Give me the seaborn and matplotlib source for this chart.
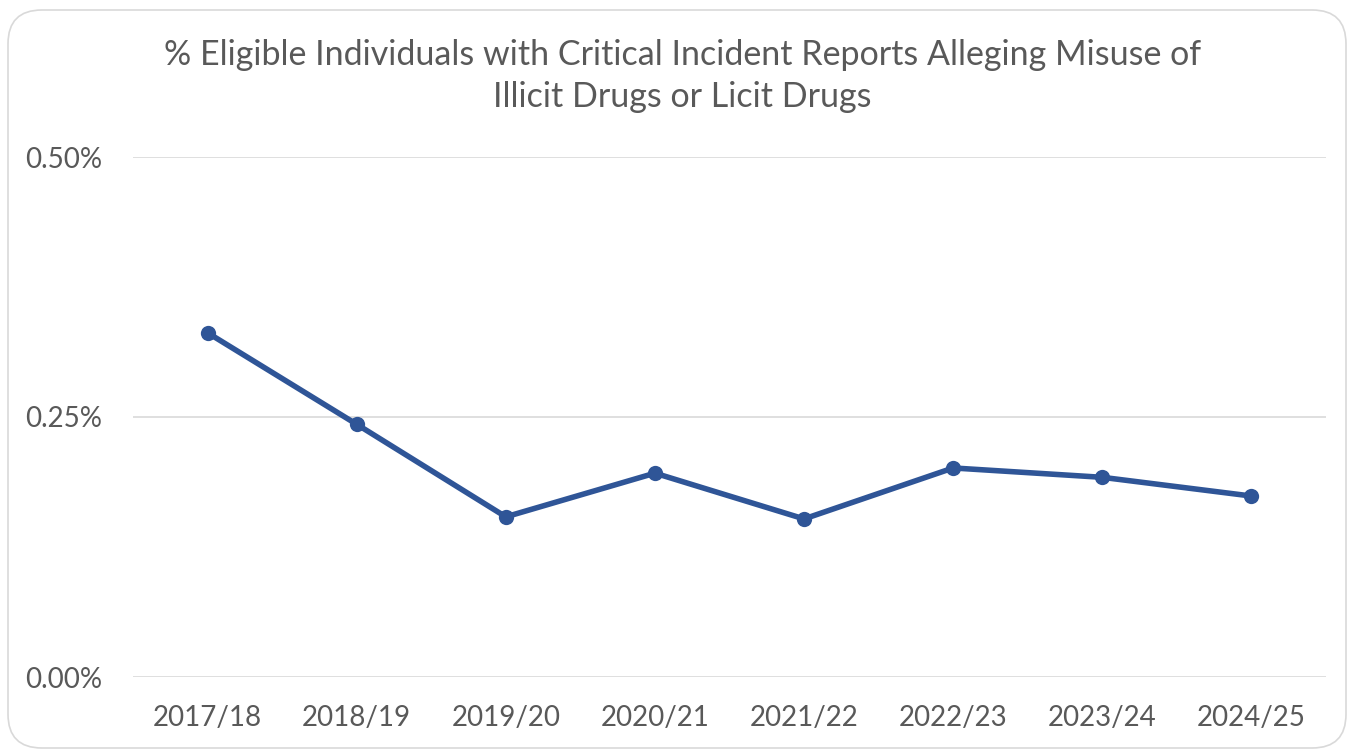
import matplotlib
matplotlib.use("Agg")
import matplotlib.pyplot as plt
import seaborn as sns
import pandas as pd
from matplotlib.patches import FancyBboxPatch
from matplotlib.ticker import FuncFormatter

years = ["2017/18", "2018/19", "2019/20", "2020/21", "2021/22", "2022/23", "2023/24", "2024/25"]
pct = [0.331, 0.243, 0.154, 0.196, 0.152, 0.201, 0.192, 0.174]

df = pd.DataFrame({"year": years, "pct": pct})

sns.set_style("white")
plt.rcParams["font.family"] = ["Lato", "DejaVu Sans"]

fig = plt.figure(figsize=(13.54, 7.5), dpi=100)
ax = fig.add_axes([133/1354, 1-677/750, (1326-133)/1354, (677-157)/750])

# rounded chart border
box = FancyBboxPatch((8/1354, 2/750), 1338/1354, 738/750, transform=fig.transFigure,
                     boxstyle="round,pad=0,rounding_size=0.025", fc="none", ec="#d9d9d9", lw=1.2,
                     mutation_aspect=1354/750)
fig.patches.append(box)

sns.lineplot(data=df, x="year", y="pct", ax=ax, color="#2f5597", lw=4,
             marker="o", markersize=11, markeredgewidth=0, sort=False)

ax.set_xlim(-0.5, 7.5)
ax.set_ylim(0, 0.5)
ax.set_yticks([0, 0.25, 0.5])
ax.yaxis.set_major_formatter(FuncFormatter(lambda v, p: f"{v:.2f}%"))
ax.grid(axis="y", color="#d9d9d9", lw=1.2)
ax.set_axisbelow(True)
for s in ax.spines.values():
    s.set_visible(False)
ax.tick_params(axis="both", length=0, labelsize=20, colors="#595959")
ax.tick_params(axis="y", pad=22)
ax.tick_params(axis="x", pad=20)
ax.set_xlabel("")
ax.set_ylabel("")

fig.text(0.504, 1-76/750, "% Eligible Individuals with Critical Incident Reports Alleging Misuse of\nIllicit Drugs or Licit Drugs",
         ha="center", va="center", fontsize=24.5, color="#595959", linespacing=1.4)

fig.savefig("out.png", dpi=100)
